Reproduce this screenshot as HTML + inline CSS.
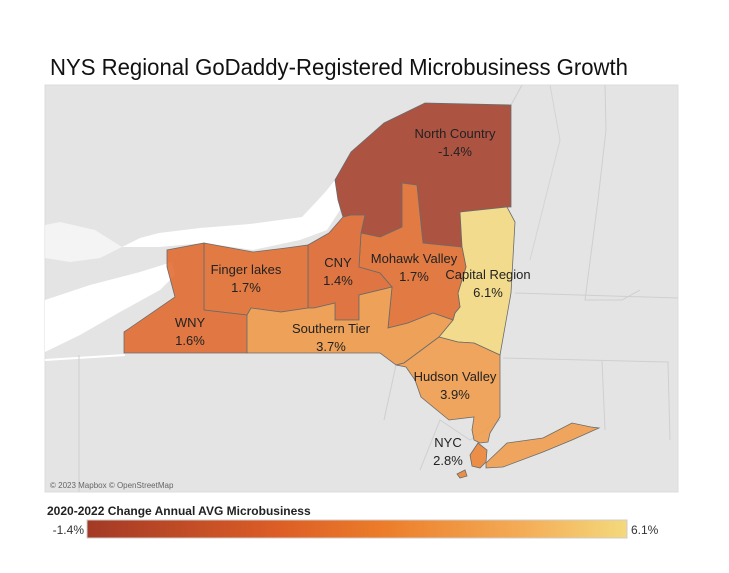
<!DOCTYPE html>
<html><head><meta charset="utf-8">
<style>
body{margin:0;background:#fff;width:729px;height:573px;overflow:hidden;font-family:"Liberation Sans",sans-serif;}
svg{position:absolute;left:0;top:0}
</style></head>
<body>
<svg id="chart" width="729" height="573" xmlns="http://www.w3.org/2000/svg">
  <defs>
    <linearGradient id="lg" x1="0" x2="1" y1="0" y2="0">
      <stop offset="0" stop-color="#a33a26"/>
      <stop offset="0.35" stop-color="#dc5d26"/>
      <stop offset="0.55" stop-color="#ec7d2a"/>
      <stop offset="0.8" stop-color="#f4ab55"/>
      <stop offset="1" stop-color="#f4d97c"/>
    </linearGradient>
  </defs>
  <text x="50" y="75" font-size="23" fill="#111" textLength="578" lengthAdjust="spacingAndGlyphs">NYS Regional GoDaddy-Registered Microbusiness Growth</text>
  <g>
    <rect x="45" y="85" width="633" height="407" fill="#e4e4e4" stroke="#ddd"/>
    <path d="M122,247 L140,238 L159,233 L200,228 L250,224 L302,217 L318,200 L327,190 L335,180 L340,210 L327,230 L300,240 L253,250 L204,243 L159,247 Z" fill="#fff"/>
    <path d="M45,300 L90,285 L140,272 L172,262 L175,275 L160,290 L120,312 L80,335 L45,352 Z" fill="#fff"/>
    <path d="M45,225 L60,222 L95,230 L122,247 L100,258 L70,262 L45,258 Z" fill="#fff" opacity="0.6"/>
    <path d="M125,355 L45,360" stroke="#fff" stroke-width="2" fill="none"/>
    <path d="M79,355 L79,492 M511,105 L522,85 M605,85 L606,130 L598,200 L585,300 L622,300 L640,290 M515,293 L678,298 M503,358 L668,362 L670,440 M602,360 L605,430 M500,420 L470,440 L440,420 L420,470 M396,365 L384,420" stroke="#cfcfcf" stroke-width="1" fill="none"/>
    <path d="M550,85 L560,140 L545,200 L530,260" stroke="#d4d4d4" stroke-width="1" fill="none"/>
    <text x="50" y="488" font-size="8" fill="#666">© 2023 Mapbox © OpenStreetMap</text>
  </g>
  <g id="regions"></g>
  <g id="labels" font-size="13" fill="#222" text-anchor="middle"></g>
  <g>
    <text x="47" y="515" font-size="12" font-weight="bold" fill="#222">2020-2022 Change Annual AVG Microbusiness</text>
    <rect x="87" y="520" width="540" height="18" fill="url(#lg)" stroke="#ccc"/>
    <text id="legMin" x="84" y="534" font-size="12" fill="#333" text-anchor="end"></text>
    <text id="legMax" x="631" y="534" font-size="12" fill="#333"></text>
  </g>
</svg>
<script>
const regionNames = ["North Country","Capital Region","Mohawk Valley","CNY","Finger lakes","WNY","Southern Tier","Hudson Valley","NYC","Long Island"];
const values = [-1.4, 6.1, 1.7, 1.4, 1.7, 1.6, 3.7, 3.9, 2.8, 3.9];
const showLabel = [true,true,true,true,true,true,true,true,true,false];
const legendMin = -1.4, legendMax = 6.1;

const shapes = {
 "North Country":"335,180 351,152 384,123 425,103 511,105 511,207 507,207 460,212 462,247 423,243 417,185 402,183 402,227 380,237 361,233 365,215 351,215 343,217 338,200",
 "Capital Region":"460,212 507,207 515,222 511,293 500,355 474,343 458,342 439,337 453,320 455,313 460,307 458,293 466,267 462,247",
 "Mohawk Valley":"361,233 380,237 402,227 402,183 417,185 423,243 462,247 466,267 458,293 460,307 455,313 453,320 433,313 408,323 388,328 392,287 380,273 359,267",
 "CNY":"308,245 329,233 343,217 351,215 365,215 361,233 359,267 380,273 392,287 359,295 359,320 335,320 335,303 314,308 308,308",
 "Finger lakes":"204,243 253,252 286,248 308,245 308,308 281,312 251,308 247,315 204,310",
 "WNY":"124,332 175,297 167,267 167,250 204,243 204,310 247,315 247,353 124,353",
 "Southern Tier":"247,315 251,308 281,312 308,308 314,308 335,303 335,320 359,320 359,295 392,287 388,328 408,323 433,313 453,320 439,337 404,363 396,365 380,353 247,353",
 "Hudson Valley":"396,365 404,363 439,337 458,342 474,343 500,355 500,417 490,433 488,442 480,443 474,440 472,430 474,417 449,420 421,397 415,380 406,367",
 "NYC":"478,443 487,450 486,462 480,468 472,466 470,455 M457,474 465,470 467,476 460,478",
 "Long Island":"486,463 507,443 543,438 572,423 591,427 599,428 572,440 543,452 503,467 486,468"
};
const labelPos = {
 "North Country":[455,138],"Capital Region":[488,279],"Mohawk Valley":[414,263],"CNY":[338,267],
 "Finger lakes":[246,274],"WNY":[190,327],"Southern Tier":[331,333],"Hudson Valley":[455,381],"NYC":[448,447]
};
const stops=[[0,[163,58,38]],[0.35,[220,93,38]],[0.55,[236,125,42]],[0.8,[244,171,85]],[1,[244,217,124]]];
function colorFor(v){
  let t=(v-legendMin)/(legendMax-legendMin); t=Math.max(0,Math.min(1,t));
  for(let i=1;i<stops.length;i++){ if(t<=stops[i][0]){const a=stops[i-1],b=stops[i];const f=(t-a[0])/(b[0]-a[0]);
    return "rgb("+a[1].map((c,k)=>Math.round(c+(b[1][k]-c)*f)).join(",")+")";}}
  return "rgb(244,217,124)";
}
const NS="http://www.w3.org/2000/svg";
const rg=document.getElementById("regions"), lb=document.getElementById("labels");
regionNames.forEach((n,i)=>{
  const parts=shapes[n].split("M");
  let d=parts.map(p=>"M"+p.trim().split(/\s+/).join(" L")+" Z").join(" ");
  const p=document.createElementNS(NS,"path");
  p.setAttribute("d",d);
  p.setAttribute("fill",colorFor(values[i]));
  p.setAttribute("fill-opacity","0.85");
  p.setAttribute("stroke","#6b6b6b");
  p.setAttribute("stroke-width","0.8");
  
  
  rg.appendChild(p);
  if(showLabel[i]&&labelPos[n]){
    const [x,y]=labelPos[n];
    const t=document.createElementNS(NS,"text");
    t.setAttribute("x",x);t.setAttribute("y",y);
    
    
    const s1=document.createElementNS(NS,"tspan");s1.setAttribute("x",x);s1.textContent=n;
    const s2=document.createElementNS(NS,"tspan");s2.setAttribute("x",x);s2.setAttribute("dy","18");
    s2.textContent=values[i].toFixed(1)+"%";
    t.appendChild(s1);t.appendChild(s2);lb.appendChild(t);
  }
});
document.getElementById("legMin").textContent=legendMin.toFixed(1)+"%";
document.getElementById("legMax").textContent=legendMax.toFixed(1)+"%";
</script>
</body></html>
